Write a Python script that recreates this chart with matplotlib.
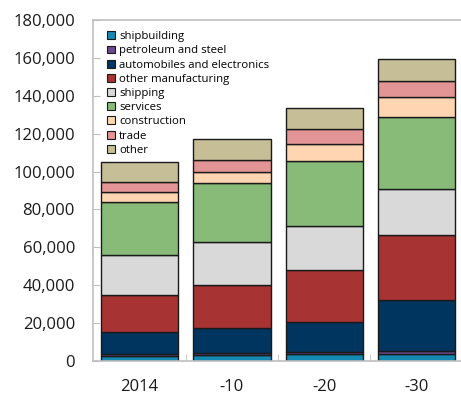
import numpy as np
import matplotlib.pyplot as plt
from matplotlib.patches import Patch
from matplotlib.ticker import FuncFormatter

plt.rcParams['font.family'] = ['Open Sans', 'DejaVu Sans']

years = ['2014', '-10', '-20', '-30']
sectors = ['shipbuilding', 'petroleum and steel', 'automobiles and electronics',
           'other manufacturing', 'shipping', 'services', 'construction', 'trade', 'other']

shipbuilding = [2600, 3000, 3600, 3700]
petroleum_steel = [1000, 1000, 1000, 1700]
auto_electronics = [11500, 13600, 16100, 26800]
other_manufacturing = [19500, 22500, 27300, 34100]
shipping = [21100, 22900, 23400, 24300]
services = [28300, 30800, 34000, 38200]
construction = [5300, 5900, 9100, 10400]
trade = [5300, 6200, 7800, 8800]
other = [10600, 11100, 11100, 11400]

colors = ['#1389b3', '#6a4a8c', '#003560', '#a83333', '#d9d9d9',
          '#87bb77', '#ffd6b1', '#e39494', '#c6be96']

series = [shipbuilding, petroleum_steel, auto_electronics, other_manufacturing,
          shipping, services, construction, trade, other]

fig = plt.figure(figsize=(4.61, 3.98), dpi=100)
ax = fig.add_axes([0.2017, 0.093, 0.7983, 0.8567])

x = np.arange(len(years))
bottom = np.zeros(len(years))
for vals, col in zip(series, colors):
    ax.bar(x, vals, bottom=bottom, width=0.835, color=col,
           edgecolor='#1a1a1a', linewidth=1.0)
    bottom += np.array(vals)

ax.set_xlim(-0.505, 3.48)
ax.set_ylim(0, 180000)
ax.set_yticks(np.arange(0, 180001, 20000))
ax.yaxis.set_major_formatter(FuncFormatter(lambda v, p: f'{int(v):,}'))
ax.set_xticks(x)
ax.set_xticklabels(years)
ax.set_xticks([0.5, 1.5, 2.5], minor=True)

ax.tick_params(axis='y', direction='in', length=5, color='#bfbfbf',
               labelsize=12, pad=13, labelcolor='#1a1a1a')
ax.tick_params(axis='x', which='major', length=0, labelsize=12, pad=13,
               labelcolor='#1a1a1a')
ax.tick_params(axis='x', which='minor', direction='in', length=5, color='#bfbfbf')

for side in ['left', 'top', 'bottom']:
    ax.spines[side].set_color('#bfbfbf')
    ax.spines[side].set_linewidth(1.2)
ax.spines['right'].set_visible(False)

handles = [Patch(facecolor=c, edgecolor='#1a1a1a', linewidth=0.8) for c in colors]
ax.legend(handles, sectors, loc='upper left', bbox_to_anchor=(0.02, 0.987),
          frameon=False, fontsize=8.2, handlelength=0.7, handleheight=0.7,
          handletextpad=0.35, labelspacing=0.28, borderaxespad=0.2)

fig.savefig('out.png', dpi=100)
